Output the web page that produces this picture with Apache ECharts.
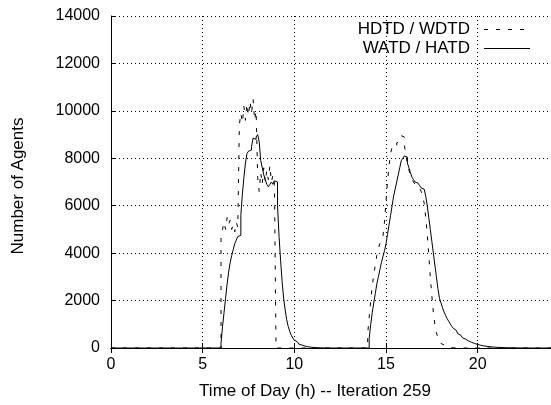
<html>
<head>
    <meta http-equiv="Content-Type" content="text/html; charset=utf-8" />
    <title>Leg histogram</title>
    <style type="text/css">
        * {
            margin: 0;
            padding: 0
        }

        html,
        body {
            width: 100%;
            height: 100%;
            background: #fff;
        }

        #chart {
            width: 551px;
            height: 405px;
        }
    </style>
    <script src="https://cdn.jsdelivr.net/npm/echarts@6/dist/echarts.min.js"></script>
</head>

<body>
    <div id="chart"></div>
    <script>
        // 5 minute bins, values start at the given hour
        const binsPerHour = 12;
        const xTicks = [0, 5, 10, 15, 20];
        const yTicks = [0, 2000, 4000, 6000, 8000, 10000, 12000, 14000];
        const legendNames = ['HDTD / WDTD', 'WATD / HATD'];

        const depMorningStart = 6;
        const depMorning = [
            4800, 5000, 5300, 5000, 5500, 5200, 5400, 5000, 5200, 4900, 5300, 5100,
            9400, 9900, 9500, 10200, 9600, 10300, 9800, 10400, 9900, 10500, 9600, 10000,
            7200, 6600, 7400, 6900, 7600, 7000, 7500, 7100, 7700, 7000, 7300, 6900
        ];
        const depEveningStart = 14;
        const depEvening = [
            600, 1300, 2000, 2600, 3100, 3500, 3900, 4200, 4400, 4600, 4700, 5300,
            6200, 7000, 7700, 8200, 8500, 8600, 8550, 8650, 8700, 8850, 8950, 8900,
            8600, 8100, 7800, 7500, 7300, 7100, 7000, 6900, 6800, 6750, 6700, 6600,
            6400, 6100, 5500, 4800, 3900, 3000, 2200, 1500, 1000, 650, 420, 280,
            190, 130, 90, 60, 40, 25, 15, 8, 4
        ];

        const arrMorningStart = 6;
        const arrMorning = [
            200, 900, 1500, 2100, 2700, 3200, 3600, 3900, 4150, 4400, 4550, 4700,
            4750, 5600, 6500, 7200, 7800, 8200, 8300, 8350, 8500, 8850, 8800, 8900,
            9000, 8700, 7900, 7600, 7300, 7100, 6900, 6800, 6900, 7000, 6900, 7050,
            7000, 6000, 4700, 3700, 2800, 2100, 1600, 1200, 900, 700, 540, 420,
            330, 260, 205, 160, 125, 100, 80, 62, 50, 40, 32, 25,
            20, 16, 13, 10, 8, 6, 5, 4, 3, 2, 2, 1
        ];
        const arrEveningStart = 14;
        const arrEvening = [
            0, 400, 1000, 1500, 1900, 2300, 2700, 3000, 3300, 3600, 3850, 4100,
            4400, 4800, 5200, 5600, 6000, 6400, 6700, 7000, 7300, 7600, 7900, 8000,
            8100, 8050, 7800, 7600, 7400, 7200, 7100, 7000, 6950, 6900, 6850, 6750,
            6700, 6650, 6400, 6000, 5500, 5000, 4500, 4000, 3500, 3000, 2500, 2100,
            1900, 1700, 1520, 1370, 1240, 1130, 1020, 920, 830, 750, 670, 600,
            540, 480, 430, 380, 340, 300, 270, 240, 210, 190, 170, 150,
            130, 115, 102, 90, 80, 70, 62, 55, 48, 42, 37, 32,
            28, 25, 22, 19, 17, 15, 13, 11, 10, 9, 8, 7,
            6, 5, 4, 4, 3, 3, 2, 2, 1, 1
        ];

        // spread the pieces onto the full day
        const buildDay = (pieces) => {
            const bins = new Array(24 * binsPerHour).fill(0);
            pieces.forEach(([start, vals]) => {
                const first = Math.round(start * binsPerHour);
                vals.forEach((v, i) => { bins[first + i] = v; });
            });
            const pts = bins.map((v, i) => [i / binsPerHour, v]);
            pts.push([24, 0]);
            return pts;
        };

        const departures = buildDay([[depMorningStart, depMorning], [depEveningStart, depEvening]]);
        const arrivals = buildDay([[arrMorningStart, arrMorning], [arrEveningStart, arrEvening]]);

        const font = 'Liberation Sans, Arial, sans-serif';
        const dash = [4, 8];
        const gridDots = { show: true, lineStyle: { color: '#000', width: 1, type: [1, 3] } };

        // key in the top right corner, text right aligned, sample on the right
        const keyText = (txt, y) => ({
            type: 'text', x: 470, y: y,
            style: { text: txt, align: 'right', verticalAlign: 'middle', font: '17px ' + font, fill: '#000' }
        });
        const keyLine = (y, lineDash) => ({
            type: 'line', shape: { x1: 484, y1: y + 0.5, x2: 530, y2: y + 0.5 },
            style: { stroke: '#000', lineWidth: 1, lineDash: lineDash }
        });

        const chart = echarts.init(document.getElementById('chart'), null, { renderer: 'canvas' });
        chart.setOption({
            animation: false,
            backgroundColor: '#fff',
            textStyle: { fontFamily: font, color: '#000' },
            grid: { left: 111, top: 16, width: 441, height: 332, show: false },
            graphic: [
                keyText(legendNames[0], 29), keyLine(29, dash),
                keyText(legendNames[1], 48), keyLine(48, null)
            ],
            xAxis: [{
                type: 'value',
                min: 0,
                max: 24,
                interval: 5,
                name: 'Time of Day (h) -- Iteration 259',
                nameLocation: 'middle',
                nameGap: 35,
                nameTextStyle: { fontFamily: font, fontSize: 17, color: '#000', padding: [0, 32, 0, 0] },
                axisLine: { show: true, onZero: false, lineStyle: { color: '#000', width: 1 } },
                axisTick: { show: true, inside: true, length: 5, lineStyle: { color: '#000' } },
                axisLabel: {
                    margin: 9, fontFamily: font, fontSize: 16, color: '#000', showMaxLabel: false,
                    formatter: v => xTicks.includes(v) ? String(v) : ''
                },
                splitLine: gridDots
            }, {
                type: 'value',
                position: 'top',
                min: 0,
                max: 24,
                interval: 5,
                axisLine: { show: true, lineStyle: { color: '#000', width: 1 } },
                axisTick: { show: true, inside: true, length: 5, lineStyle: { color: '#000' } },
                axisLabel: { show: false },
                splitLine: { show: false }
            }],
            yAxis: {
                type: 'value',
                min: yTicks[0],
                max: yTicks[yTicks.length - 1],
                interval: 2000,
                name: 'Number of Agents',
                nameLocation: 'middle',
                nameGap: 84,
                nameRotate: 90,
                nameTextStyle: { fontFamily: font, fontSize: 17, color: '#000', padding: [0, 8, 0, 0] },
                axisLine: { show: true, lineStyle: { color: '#000', width: 1 } },
                axisTick: { show: true, inside: true, length: 5, lineStyle: { color: '#000' } },
                axisLabel: {
                    margin: 11, fontFamily: font, fontSize: 16, color: '#000',
                    formatter: v => String(v)
                },
                splitLine: gridDots
            },
            series: [{
                name: legendNames[0],
                type: 'line',
                step: 'end',
                symbol: 'none',
                data: departures,
                lineStyle: { color: '#000', width: 1, type: dash },
                z: 3
            }, {
                name: legendNames[1],
                type: 'line',
                step: 'end',
                symbol: 'none',
                data: arrivals,
                lineStyle: { color: '#000', width: 1, type: 'solid' },
                z: 4
            }]
        });
    </script>
</body>

</html>
